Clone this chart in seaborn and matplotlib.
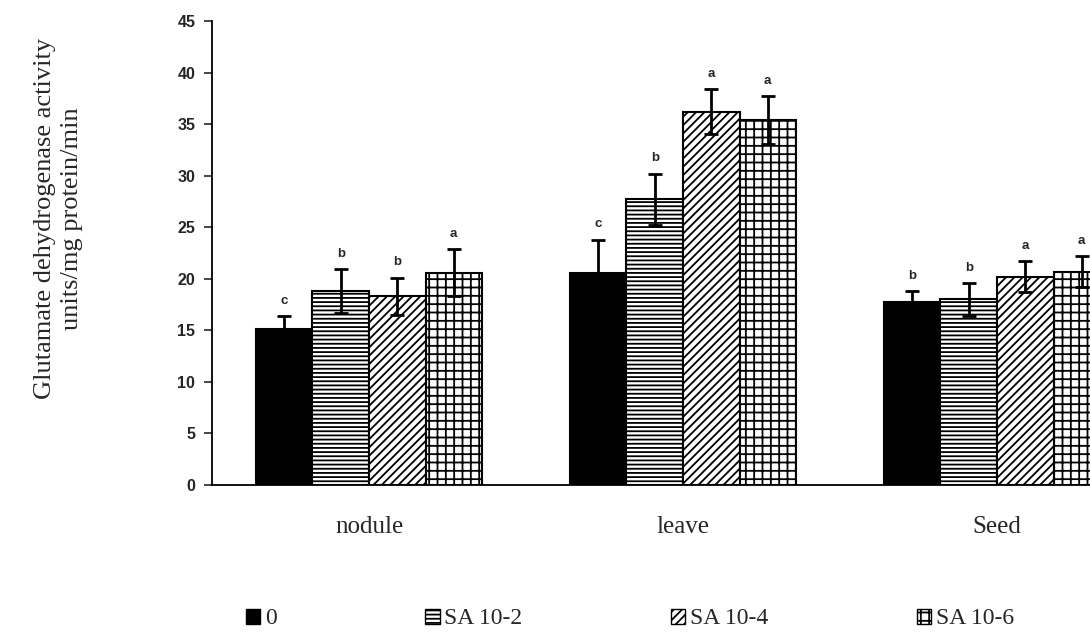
import numpy as np
import pandas as pd
import seaborn as sns
import matplotlib.pyplot as plt
from matplotlib.patches import Patch

# values
organs = ['nodule', 'leave', 'Seed']
treatments = ['0', 'SA 10-2', 'SA 10-4', 'SA 10-6']
means = {
    '0':       [15.1, 20.6, 17.7],
    'SA 10-2': [18.8, 27.7, 18.0],
    'SA 10-4': [18.3, 36.2, 20.2],
    'SA 10-6': [20.6, 35.4, 20.7],
}
errors = {
    '0':       [1.3, 3.2, 1.1],
    'SA 10-2': [2.1, 2.5, 1.6],
    'SA 10-4': [1.8, 2.2, 1.5],
    'SA 10-6': [2.3, 2.3, 1.5],
}
letters = {
    '0':       ['c', 'c', 'b'],
    'SA 10-2': ['b', 'b', 'b'],
    'SA 10-4': ['b', 'a', 'a'],
    'SA 10-6': ['a', 'a', 'a'],
}
hatches = ['', '----', '////', '++']
fills = ['black', 'white', 'white', 'white']

rows = []
for t in treatments:
    for i, o in enumerate(organs):
        rows.append({'organ': o, 'treatment': t, 'value': means[t][i]})
dataFrame = pd.DataFrame(rows)

sns.set_style('white')
plt.rcParams['hatch.linewidth'] = 1.3

fig = plt.figure(figsize=(10.9, 6.34), dpi=100)
# axes is wider than the figure: the right part of the chart is cut off like in the scan
ax = fig.add_axes([212 / 1090, 149 / 634, 942 / 1090, 464 / 634])

sns.barplot(data=dataFrame, x='organ', y='value', hue='treatment', order=organs,
            hue_order=treatments, width=0.72, gap=0, errorbar=None,
            color='white', edgecolor='black', linewidth=1.5, legend=False, ax=ax)

# hatching, error bars and letters
for k, t in enumerate(treatments):
    bars = ax.containers[k]
    xs = []
    for bar in bars:
        bar.set_facecolor(fills[k])
        bar.set_hatch(hatches[k])
        xs.append(bar.get_x() + bar.get_width() / 2)
    ax.errorbar(xs, means[t], yerr=errors[t], fmt='none', ecolor='black',
                elinewidth=2, capsize=5, capthick=2, zorder=5)
    for x, m, e, l in zip(xs, means[t], errors[t], letters[t]):
        ax.text(x, m + e + 0.9, l, ha='center', va='bottom', fontsize=9.5,
                fontweight='bold', family='Liberation Sans')

ax.set_xlim(-0.5, 2.5)
ax.set_ylim(0, 45)
ax.set_yticks(np.arange(0, 46, 5))
ax.set_yticklabels([str(v) for v in range(0, 46, 5)], fontsize=11.5,
                   fontweight='bold', family='Liberation Sans')
ax.set_xticks(range(len(organs)))
ax.set_xticklabels(organs, fontsize=18, family='Liberation Serif')
ax.tick_params(axis='y', direction='out', length=6, width=1.2, left=True, pad=6)
ax.tick_params(axis='x', length=0, pad=22)
ax.set_xlabel('')
ax.set_ylabel('Glutamate dehydrogenase activity\nunits/mg protein/min',
              fontsize=19, family='Liberation Serif', linespacing=1.3)
ax.yaxis.set_label_coords(-0.137, 0.575)

sns.despine(ax=ax, top=True, right=True)
for s in ['left', 'bottom']:
    ax.spines[s].set_color('black')
    ax.spines[s].set_linewidth(1.3)

handles = [Patch(facecolor=fills[k], edgecolor='black', hatch=hatches[k], label=t)
           for k, t in enumerate(treatments)]
fig.legend(handles=handles, loc='center', bbox_to_anchor=(630 / 1090, 1 - 619 / 634),
           ncol=4, frameon=False, prop={'family': 'Liberation Serif', 'size': 17},
           handlelength=0.6, handleheight=0.6, handletextpad=0.2, columnspacing=6.3)

plt.savefig('out.png', dpi=100)
